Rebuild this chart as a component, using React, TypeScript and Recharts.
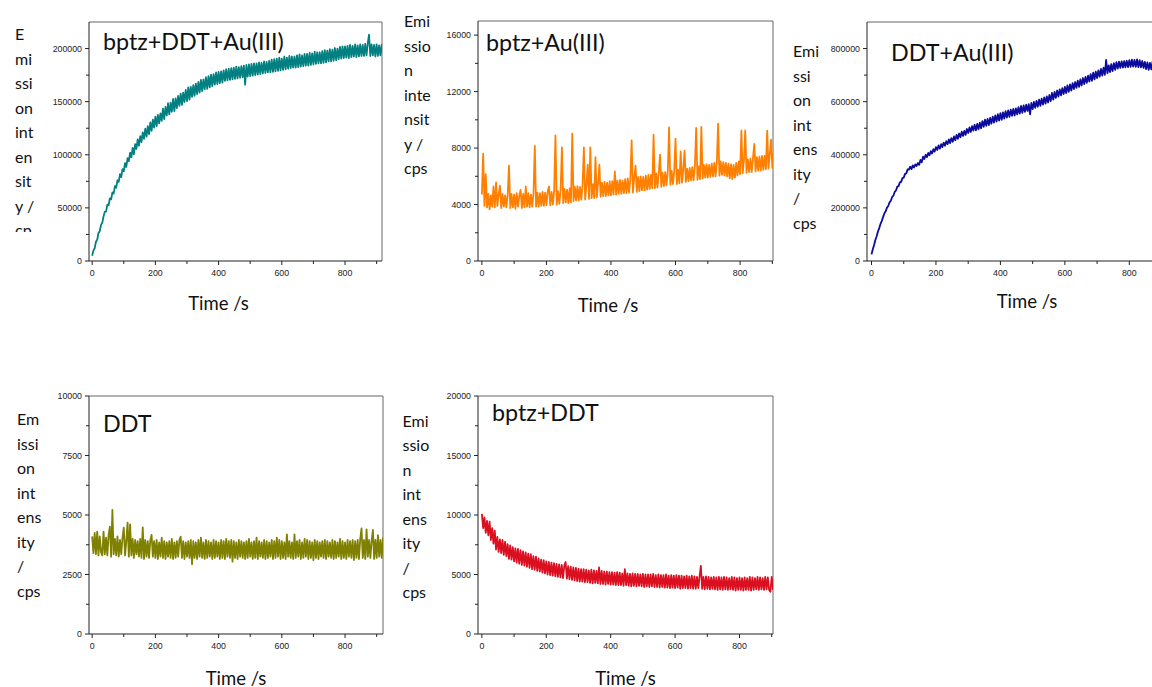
import React from "react";
import { LineChart, Line, XAxis, YAxis, ReferenceLine } from "recharts";

// ---------- data ----------
const timeSec = [
  0, 4, 8, 12, 16, 20, 24, 28, 32, 36,
  40, 44, 48, 52, 56, 60, 64, 68, 72, 76,
  80, 84, 88, 92, 96, 100, 104, 108, 112, 116,
  120, 124, 128, 132, 136, 140, 144, 148, 152, 156,
  160, 164, 168, 172, 176, 180, 184, 188, 192, 196,
  200, 204, 208, 212, 216, 220, 224, 228, 232, 236,
  240, 244, 248, 252, 256, 260, 264, 268, 272, 276,
  280, 284, 288, 292, 296, 300, 304, 308, 312, 316,
  320, 324, 328, 332, 336, 340, 344, 348, 352, 356,
  360, 364, 368, 372, 376, 380, 384, 388, 392, 396,
  400, 404, 408, 412, 416, 420, 424, 428, 432, 436,
  440, 444, 448, 452, 456, 460, 464, 468, 472, 476,
  480, 484, 488, 492, 496, 500, 504, 508, 512, 516,
  520, 524, 528, 532, 536, 540, 544, 548, 552, 556,
  560, 564, 568, 572, 576, 580, 584, 588, 592, 596,
  600, 604, 608, 612, 616, 620, 624, 628, 632, 636,
  640, 644, 648, 652, 656, 660, 664, 668, 672, 676,
  680, 684, 688, 692, 696, 700, 704, 708, 712, 716,
  720, 724, 728, 732, 736, 740, 744, 748, 752, 756,
  760, 764, 768, 772, 776, 780, 784, 788, 792, 796,
  800, 804, 808, 812, 816, 820, 824, 828, 832, 836,
  840, 844, 848, 852, 856, 860, 864, 868, 872, 876,
  880, 884, 888, 892, 896, 900, 904, 908, 912, 916,
  920,
];

// bptz+DDT+Au(III), cps
const bptzDdtAu = [
  5000, 10000, 12000, 18200, 20000, 26500, 28000, 34000, 36000, 42000,
  46500, 46500, 53000, 52500, 59000, 58000, 64500, 63500, 70500, 69000,
  76000, 74500, 81800, 79000, 86500, 84500, 92200, 88500, 96800, 94000,
  102000, 97500, 106500, 100500, 110000, 105500, 114500, 108500, 117500, 112000,
  121000, 115000, 124500, 117000, 127000, 119500, 130500, 122500, 133000, 125500,
  136000, 127000, 137500, 129500, 139000, 132000, 143500, 133500, 145000, 137000,
  148500, 138000, 149000, 140500, 152500, 141000, 153000, 144000, 155500, 146000,
  157500, 147000, 158500, 149500, 161000, 150500, 163500, 152000, 164000, 154500,
  165500, 155500, 167000, 157000, 168500, 158500, 170500, 160000, 171000, 161500,
  173000, 162000, 174000, 163500, 175500, 164500, 176000, 166000, 177500, 166500,
  178000, 167500, 178500, 168000, 179500, 169500, 180500, 170000, 181000, 170500,
  181500, 171000, 182000, 171500, 183000, 172000, 182500, 172500, 183500, 173000,
  184000, 166000, 184500, 173500, 185000, 174000, 185500, 174500, 186000, 175000,
  186000, 175500, 187000, 176000, 186500, 176500, 188000, 177000, 187500, 177500,
  188500, 177500, 189500, 178000, 190000, 178500, 190500, 179000, 191500, 179500,
  190500, 180000, 192500, 180500, 191500, 181000, 193000, 181500, 192500, 182000,
  192500, 182000, 193500, 182500, 194500, 183000, 193500, 183500, 195000, 184000,
  195000, 184000, 196000, 184500, 195500, 185000, 197000, 185500, 196500, 186000,
  196500, 186000, 197500, 186500, 198500, 187000, 198000, 188000, 199500, 188000,
  199000, 188500, 200500, 189000, 200000, 190000, 201500, 190500, 202000, 191000,
  202000, 191500, 202500, 191000, 203500, 192000, 202500, 192500, 204000, 192000,
  203000, 192500, 204000, 193000, 203500, 193000, 204500, 193500, 205000, 213000,
  193000, 204000, 193500, 203500, 192500, 204000, 193000, 203000, 193500, 203500,
  194000,
];

// bptz+Au(III), cps
const bptzAu = [
  4700, 7600, 3900, 6150, 3800, 4750, 3650, 4650, 3850, 5280,
  3800, 5560, 3900, 4700, 5330, 3750, 4750, 3850, 4650, 3800,
  4700, 6750, 3750, 4750, 3800, 4700, 3700, 4800, 3850, 4650,
  5040, 3750, 4750, 3800, 5280, 3850, 4800, 3800, 4700, 3850,
  4800, 8160, 3850, 4850, 3850, 4800, 3900, 4900, 3900, 4850,
  3950, 4950, 5280, 3950, 4900, 4000, 5000, 8900, 4000, 4950,
  4050, 5050, 8050, 4100, 5100, 4150, 5050, 4100, 5150, 4150,
  9020, 4250, 5250, 4300, 5300, 4300, 5250, 4350, 5350, 8050,
  4350, 5400, 6820, 4400, 8050, 4450, 5450, 4450, 7360, 4500,
  5500, 6820, 4550, 5550, 4600, 5600, 4600, 5550, 4650, 5650,
  4650, 5650, 4700, 6340, 4700, 5700, 4750, 5750, 4750, 5700,
  4800, 5800, 4800, 5850, 4850, 5800, 8540, 4850, 5900, 6750,
  4900, 5950, 4950, 6000, 5000, 5950, 5000, 6050, 5050, 6100,
  5100, 6100, 5150, 8950, 5150, 6200, 5200, 6250, 7530, 5250,
  6250, 5300, 6300, 5350, 6350, 9470, 5400, 6400, 5450, 6400,
  8660, 5450, 6450, 5500, 7760, 5550, 6500, 7810, 5600, 6550,
  5650, 6600, 5700, 6650, 5700, 6700, 9420, 5750, 6700, 5800,
  9490, 5850, 6800, 5900, 6850, 5900, 6800, 5950, 6900, 6000,
  6950, 6000, 7000, 9730, 6050, 7050, 6100, 7000, 6050, 6950,
  6000, 6900, 5850, 6850, 5800, 6800, 5900, 6950, 6050, 7050,
  6150, 9250, 6200, 7100, 9250, 6250, 7200, 6300, 7250, 6300,
  7300, 8300, 6350, 7350, 6400, 7400, 6400, 7450, 6450, 7450,
  6500, 9230, 6550, 7550, 8590, 6600, 7600, 6600, 7650, 6650,
  7550,
];

// DDT+Au(III), cps
const ddtAu = [
  25000, 44000, 60000, 79000, 93000, 111000, 124000, 140000, 151000, 166000,
  180000, 187000, 201000, 207000, 221000, 227000, 241000, 246500, 260000, 265500,
  280000, 282000, 296000, 298000, 312000, 314000, 328000, 330000, 345000, 344000,
  355000, 346000, 360000, 352000, 364000, 358000, 369000, 362000, 381000, 372000,
  393000, 384000, 400000, 391000, 407000, 398000, 414000, 405000, 421000, 412000,
  429000, 418000, 435000, 423000, 440000, 429000, 446000, 434000, 451000, 440000,
  458000, 444000, 463000, 449000, 469000, 455000, 475000, 460000, 480000, 466000,
  487000, 471000, 490000, 475000, 497000, 482000, 503000, 486000, 508000, 491000,
  513000, 492000, 516000, 496000, 521000, 500000, 527000, 505000, 532000, 509000,
  535000, 512000, 539000, 517000, 544000, 521000, 548000, 525000, 553000, 529000,
  557000, 532000, 560000, 536000, 564000, 540000, 567000, 543000, 570000, 547000,
  573000, 548000, 575000, 552000, 579000, 555000, 584000, 558000, 586000, 562000,
  589000, 565000, 591000, 552000, 595000, 572000, 599000, 577000, 603000, 581000,
  608000, 584000, 611000, 589000, 616000, 593000, 620000, 597000, 625000, 602000,
  633000, 608000, 637000, 614000, 642000, 619000, 646000, 624000, 651000, 629000,
  656000, 632000, 661000, 637000, 665000, 642000, 670000, 647000, 674000, 652000,
  679000, 656000, 684000, 661000, 689000, 666000, 693000, 671000, 698000, 676000,
  704000, 678000, 709000, 684000, 713000, 689000, 718000, 694000, 723000, 698000,
  728000, 701000, 757000, 707000, 737000, 711000, 741000, 715000, 745000, 720000,
  749000, 725000, 751000, 727000, 752000, 728000, 753000, 729000, 754000, 730000,
  756000, 731000, 758000, 732000, 757000, 731000, 759000, 730000, 756000, 729000,
  753000, 727000, 750000, 723000, 748000, 720000, 746000, 722000, 750000, 726000,
  754000, 729000, 756000, 731000, 757000, 732000, 758000, 733000, 757000, 733000,
  756000,
];

// DDT, cps
const ddtOnly = [
  4100, 3400, 4250, 3350, 4300, 3300, 4100, 3450, 3300, 4300,
  3350, 4050, 3300, 4150, 4510, 3250, 5210, 3350, 4000, 3300,
  4100, 3250, 3950, 3350, 4050, 4470, 3300, 3900, 4680, 3250,
  4610, 3300, 4000, 3200, 3950, 3350, 3900, 3250, 4000, 3200,
  4480, 3150, 3950, 3250, 3900, 3200, 3950, 4160, 3250, 3900,
  3200, 3950, 3150, 3850, 3250, 4050, 3200, 3900, 3150, 3850,
  3250, 3900, 3200, 4000, 3150, 3850, 3200, 3900, 3250, 3950,
  4090, 3200, 3900, 3150, 3850, 3250, 3900, 3200, 3950, 2930,
  3900, 3200, 3850, 3150, 3950, 3250, 4050, 3200, 3850, 3150,
  3950, 3200, 3900, 3250, 3850, 3150, 3950, 3200, 3900, 3250,
  3850, 3150, 3950, 3200, 3900, 3150, 4000, 3250, 3900, 3200,
  3950, 3040, 3900, 3200, 3850, 3150, 3950, 3250, 3900, 3200,
  3850, 3150, 3900, 3200, 4000, 3250, 3850, 3150, 3900, 3200,
  4050, 3150, 3900, 3250, 3850, 3200, 3950, 3150, 3900, 3200,
  3850, 3250, 3950, 3150, 3900, 3200, 4050, 3250, 3950, 3150,
  3900, 3200, 3850, 3150, 4190, 3250, 3900, 3200, 3850, 3150,
  4190, 3200, 3900, 3250, 3950, 3150, 3850, 3200, 4000, 3250,
  3950, 3150, 3900, 3200, 3850, 3100, 3950, 3200, 3900, 3150,
  3850, 3250, 3900, 3200, 3950, 3150, 3900, 3250, 3850, 3200,
  3950, 3150, 3900, 3200, 3850, 3250, 4000, 3150, 3900, 3200,
  3850, 3150, 3950, 3250, 3900, 3200, 3950, 3110, 3900, 3200,
  3950, 3150, 4000, 4440, 3200, 3950, 3150, 4400, 3250, 3950,
  3200, 3900, 4370, 3150, 3950, 3200, 4150, 3250, 3950, 3200,
  4050,
];

// bptz+DDT, cps
const bptzDdt = [
  10100, 8900, 9800, 8500, 9500, 8300, 9440, 7900, 8900, 7600,
  8690, 7100, 8150, 6900, 7950, 6800, 7900, 6650, 7750, 6550,
  7550, 6300, 7450, 6250, 7300, 6100, 7200, 6000, 7150, 5900,
  7050, 5800, 6950, 5750, 6850, 5650, 6750, 5550, 6700, 5450,
  6550, 5400, 6500, 5300, 6350, 5250, 6250, 5150, 6200, 5100,
  6100, 5000, 6050, 4950, 6000, 4900, 5950, 4850, 5900, 4800,
  5850, 4750, 5800, 4700, 5750, 6050, 4650, 5700, 4600, 5650,
  4550, 5600, 4500, 5550, 4450, 5500, 4400, 5450, 4400, 5450,
  4350, 5400, 4350, 5350, 4300, 5400, 4250, 5350, 4300, 5300,
  4250, 5600, 4200, 5300, 4200, 5250, 4150, 5250, 4200, 5200,
  4150, 5200, 4150, 5150, 4100, 5200, 4100, 5150, 4100, 5100,
  4050, 5450, 4100, 5100, 4050, 5050, 4000, 5100, 4050, 5050,
  4000, 5050, 4050, 5000, 4000, 5050, 3950, 5000, 4000, 5000,
  3950, 5000, 4000, 5050, 3950, 4950, 3950, 5000, 3900, 4950,
  3950, 4950, 3900, 5000, 3900, 4900, 3850, 4950, 3900, 4900,
  3850, 4950, 3900, 4900, 3800, 4900, 3850, 4850, 3850, 4900,
  3800, 4850, 3850, 4900, 3800, 4850, 3800, 4800, 3850, 4850,
  5730, 3800, 4800, 3750, 4850, 3800, 4800, 3750, 4750, 3800,
  4800, 3750, 4750, 3700, 4800, 3750, 4750, 3700, 4800, 3750,
  4750, 3700, 4700, 3750, 4800, 3700, 4750, 3650, 4700, 3700,
  4750, 3700, 4700, 3650, 4750, 3700, 4700, 3700, 4800, 3650,
  4750, 3700, 4700, 3750, 4800, 3700, 4750, 3750, 4700, 3700,
  4800, 3750, 4750, 3700, 3550, 4800, 3750, 4750, 3800, 4800,
  3850,
];

const xMajorTicks = [0, 200, 400, 600, 800];
const xMinorTicks = [100, 300, 500, 700, 900];

const titles = ["bptz+DDT+Au(III)", "bptz+Au(III)", "DDT+Au(III)", "DDT", "bptz+DDT"];
const xAxisTitle = "Time /s";

// y label, wrapped as in the reference
const yLabelP1 = ["E", "mi", "ssi", "on", "int", "en", "sit", "y /", "cp"];
const yLabelP2 = ["Emi", "ssio", "n", "inte", "nsit", "y /", "cps"];
const yLabelP3 = ["Emi", "ssi", "on", "int", "ens", "ity", "/", "cps"];
const yLabelP4 = ["Em", "issi", "on", "int", "ens", "ity", "/", "cps"];
const yLabelP5 = ["Emi", "ssio", "n", "int", "ens", "ity", "/", "cps"];

const yMajorP1 = [0, 50000, 100000, 150000, 200000];
const yMinorP1 = [25000, 75000, 125000, 175000];
const yMajorP2 = [0, 4000, 8000, 12000, 16000];
const yMinorP2 = [2000, 6000, 10000, 14000];
const yMajorP3 = [0, 200000, 400000, 600000, 800000];
const yMinorP3 = [100000, 300000, 500000, 700000];
const yMajorP4 = [0, 2500, 5000, 7500, 10000];
const yMinorP4 = [1250, 3750, 6250, 8750];
const yMajorP5 = [0, 5000, 10000, 15000, 20000];
const yMinorP5 = [2500, 7500, 12500, 17500];

// ---------- drawing ----------
const AXIS_COLOR = "#222";
const FRAME_COLOR = "#666";
const TICK_FONT = "'Liberation Sans', Arial, sans-serif";
const TEXT_FONT = "Lato, 'Open Sans', sans-serif";
const LEFT_PAD = 70;
const TOP_PAD = 10;
const RIGHT_PAD = 10;
const BOTTOM_PAD = 25;

type PanelProps = {
  left: number;
  top: number;
  w: number;
  h: number;
  xDomain: [number, number];
  yDomain: [number, number];
  yMajor: number[];
  yMinor: number[];
  values: number[];
  color: string;
};

function Panel(p: PanelProps) {
  const data = timeSec.map((t, i) => ({ t, v: p.values[i] }));
  const yTicks = [...p.yMajor, ...p.yMinor].sort((a, b) => a - b);
  const xTicks = [...xMajorTicks, ...xMinorTicks].sort((a, b) => a - b);

  const YTick = (props: any) => {
    const { x, y, payload } = props;
    const major = p.yMajor.includes(payload.value);
    return (
      <g>
        <line x1={x} x2={x - (major ? 4 : 3)} y1={y} y2={y} stroke={AXIS_COLOR} strokeWidth={1} />
        {major && (
          <text x={x - 7} y={y} dy="0.35em" textAnchor="end" fontSize={8.8} fontFamily={TICK_FONT} fill="#222">
            {String(payload.value)}
          </text>
        )}
      </g>
    );
  };
  const XTick = (props: any) => {
    const { x, y, payload } = props;
    const major = xMajorTicks.includes(payload.value);
    return (
      <g>
        <line x1={x} x2={x} y1={y} y2={y + (major ? 4 : 3)} stroke={AXIS_COLOR} strokeWidth={1} />
        {major && (
          <text x={x} y={y + 15} textAnchor="middle" fontSize={8.8} fontFamily={TICK_FONT} fill="#222">
            {String(payload.value)}
          </text>
        )}
      </g>
    );
  };

  return (
    <div style={{ position: "absolute", left: p.left - LEFT_PAD, top: p.top - TOP_PAD }}>
      <LineChart
        width={p.w + LEFT_PAD + RIGHT_PAD}
        height={p.h + TOP_PAD + BOTTOM_PAD}
        data={data}
        margin={{ top: TOP_PAD, right: RIGHT_PAD, left: 0, bottom: 0 }}
      >
        <XAxis
          dataKey="t"
          type="number"
          domain={p.xDomain}
          allowDataOverflow
          ticks={xTicks}
          interval={0}
          height={BOTTOM_PAD}
          tickSize={0}
          tickMargin={0}
          tickLine={false}
          axisLine={{ stroke: AXIS_COLOR, strokeWidth: 1 }}
          tick={XTick}
        />
        <YAxis
          type="number"
          domain={p.yDomain}
          allowDataOverflow
          ticks={yTicks}
          interval={0}
          width={LEFT_PAD}
          tickSize={0}
          tickMargin={0}
          tickLine={false}
          axisLine={{ stroke: AXIS_COLOR, strokeWidth: 1 }}
          tick={YTick}
        />
        <ReferenceLine y={p.yDomain[1]} stroke={FRAME_COLOR} strokeWidth={1} />
        <ReferenceLine x={p.xDomain[1]} stroke={FRAME_COLOR} strokeWidth={1} />
        <Line
          dataKey="v"
          stroke={p.color}
          strokeWidth={1.8}
          strokeLinejoin="round"
          dot={false}
          activeDot={false}
          isAnimationActive={false}
        />
      </LineChart>
    </div>
  );
}

function YLabel({ lines, x, y0, clipBottom }: { lines: string[]; x: number; y0: number; clipBottom?: number }) {
  const id = `clip-${x}-${y0}`;
  return (
    <g clipPath={clipBottom ? `url(#${id})` : undefined}>
      {clipBottom && (
        <defs>
          <clipPath id={id}>
            <rect x={0} y={0} width={1152} height={clipBottom} />
          </clipPath>
        </defs>
      )}
      {lines.map((s, i) => (
        <text key={i} x={x} y={y0 + i * 24.5} fontSize={16} fontFamily={TEXT_FONT} fill="#111">
          {s}
        </text>
      ))}
    </g>
  );
}

export default function App() {
  return (
    <div
      style={{
        position: "absolute",
        left: 0,
        top: 0,
        width: 1152,
        height: 687,
        overflow: "hidden",
        background: "#fff",
      }}
    >
      <Panel left={89} top={22} w={293} h={239} xDomain={[-10, 917]} yDomain={[0, 225000]}
        yMajor={yMajorP1} yMinor={yMinorP1} values={bptzDdtAu} color="#008080" />
      <Panel left={478} top={21} w={295} h={240} xDomain={[-12, 902]} yDomain={[0, 17000]}
        yMajor={yMajorP2} yMinor={yMinorP2} values={bptzAu} color="#FF8000" />
      <Panel left={867} top={22} w={301} h={239} xDomain={[-14, 920]} yDomain={[0, 900000]}
        yMajor={yMajorP3} yMinor={yMinorP3} values={ddtAu} color="#0B0B9E" />
      <Panel left={89} top={396} w={294} h={238} xDomain={[-10, 920]} yDomain={[0, 10000]}
        yMajor={yMajorP4} yMinor={yMinorP4} values={ddtOnly} color="#808000" />
      <Panel left={478} top={396} w={295} h={238} xDomain={[-12, 904]} yDomain={[0, 20000]}
        yMajor={yMajorP5} yMinor={yMinorP5} values={bptzDdt} color="#DA1020" />

      <svg
        width={1152}
        height={687}
        style={{ position: "absolute", left: 0, top: 0, pointerEvents: "none" }}
      >
        {/* panel titles */}
        <text x={103} y={49.5} fontSize={23.3} fontFamily={TEXT_FONT} fill="#111">{titles[0]}</text>
        <text x={486} y={51} fontSize={23.3} fontFamily={TEXT_FONT} fill="#111">{titles[1]}</text>
        <text x={891} y={61} fontSize={23.3} fontFamily={TEXT_FONT} fill="#111">{titles[2]}</text>
        <text x={103} y={431.5} fontSize={23.3} fontFamily={TEXT_FONT} fill="#111">{titles[3]}</text>
        <text x={492} y={421} fontSize={23.3} fontFamily={TEXT_FONT} fill="#111">{titles[4]}</text>

        {/* x-axis titles */}
        <text x={218.5} y={310} textAnchor="middle" fontSize={18.5} fontFamily={TEXT_FONT} fill="#111">{xAxisTitle}</text>
        <text x={608} y={311.5} textAnchor="middle" fontSize={18.5} fontFamily={TEXT_FONT} fill="#111">{xAxisTitle}</text>
        <text x={1027} y={307.5} textAnchor="middle" fontSize={18.5} fontFamily={TEXT_FONT} fill="#111">{xAxisTitle}</text>
        <text x={236} y={684.5} textAnchor="middle" fontSize={18.5} fontFamily={TEXT_FONT} fill="#111">{xAxisTitle}</text>
        <text x={625.5} y={684.5} textAnchor="middle" fontSize={18.5} fontFamily={TEXT_FONT} fill="#111">{xAxisTitle}</text>

        {/* y-axis titles */}
        <YLabel lines={yLabelP1} x={15} y0={40} clipBottom={232} />
        <YLabel lines={yLabelP2} x={404} y0={27} />
        <YLabel lines={yLabelP3} x={793} y0={57.3} />
        <YLabel lines={yLabelP4} x={17} y0={425} />
        <YLabel lines={yLabelP5} x={402.5} y0={426.7} />
      </svg>
    </div>
  );
}
